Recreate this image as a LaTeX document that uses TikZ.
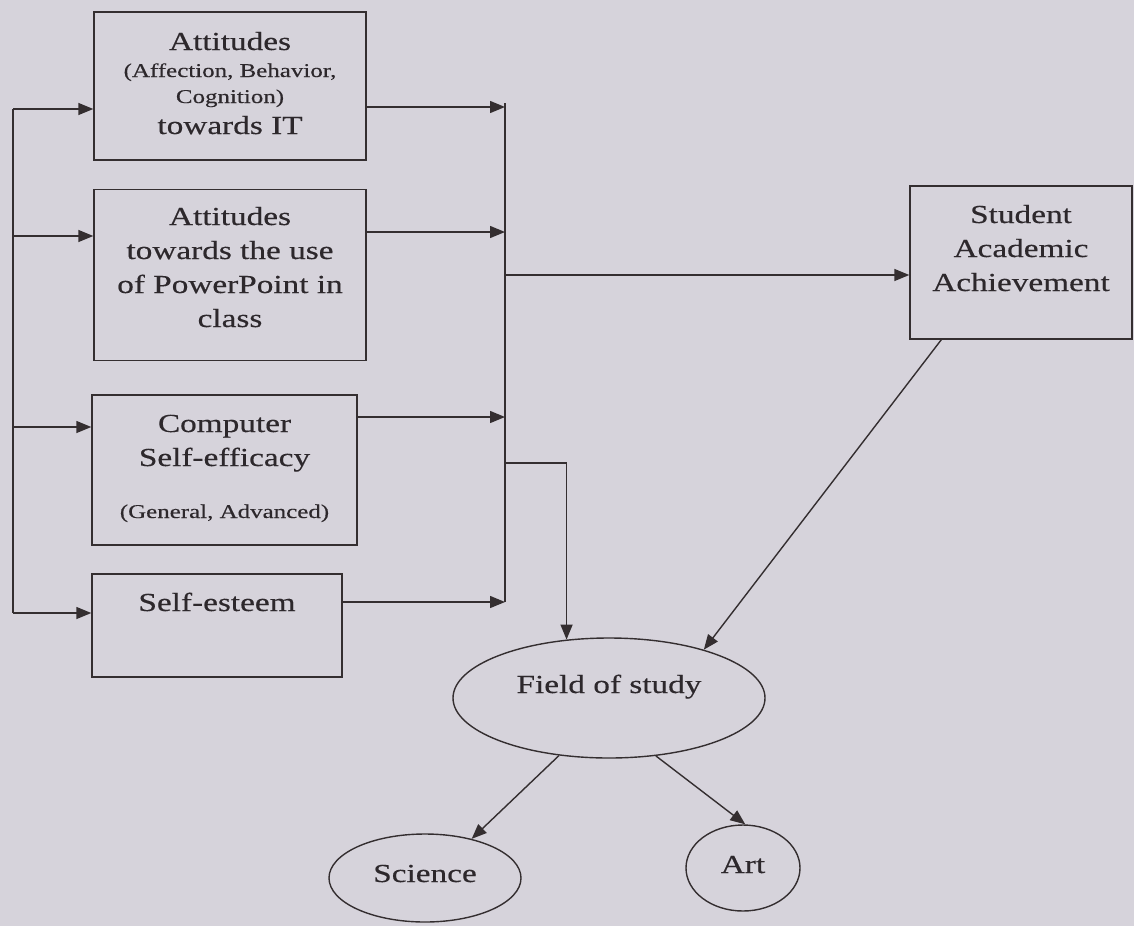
\documentclass[tikz,border=0pt]{standalone}
\usepackage{fontspec}
\setmainfont{Liberation Serif}[FakeStretch=1.28,FakeBold=0.4]
\usetikzlibrary{arrows.meta,shapes.geometric}
\definecolor{bg}{RGB}{214,211,219}
\definecolor{ink}{RGB}{52,46,48}
\definecolor{txt}{RGB}{45,40,44}
\newcommand{\txtat}[2]{\raisebox{#1}[0pt][0pt]{\begin{tabular}[t]{@{}c@{}}#2\end{tabular}}}
\newcommand{\sm}{\fontsize{19.5}{24}\selectfont}
\begin{document}
\begin{tikzpicture}[x=1pt,y=-1pt,
  box/.style={draw=ink, line width=1.4pt, rectangle, inner sep=0pt, text=txt,
    font=\fontsize{26}{34}\selectfont},
  oval/.style={draw=ink, line width=1.4pt, ellipse, inner sep=0pt, text=txt,
    font=\fontsize{26}{34}\selectfont},
  conn/.style={draw=ink, line width=1.4pt},
  arr/.style={conn, -{Triangle[length=15pt,width=12pt]}}]
\fill[bg] (0,0) rectangle (1134,926);
\useasboundingbox (0,0) rectangle (1134,926);

\node[box, minimum width=272pt, minimum height=148pt] (b1) at (230,86)
  {\txtat{36pt}{Attitudes\\[-7pt] \sm (Affection, Behavior,\\[-8pt] \sm Cognition)\\[-3pt] towards IT}};
\node[box, minimum width=272pt, minimum height=171pt] (b2) at (230,275)
  {\txtat{50pt}{Attitudes\\ towards the use\\ of PowerPoint in\\ class}};
\node[box, minimum width=265pt, minimum height=150pt] (b3) at (224.5,470)
  {\txtat{38pt}{Computer\\ Self-efficacy\\[18pt] \sm (General, Advanced)}};
\node[box, minimum width=250pt, minimum height=103pt] (b4) at (217,625.5)
  {\txtat{14.5pt}{Self-esteem}};
\node[box, minimum width=222pt, minimum height=153pt] (s) at (1021,262.5)
  {\txtat{39.5pt}{Student\\ Academic\\ Achievement}};
\node[oval, minimum width=312pt, minimum height=120pt] (f) at (609,698)
  {\txtat{5pt}{Field of study}};
\node[oval, minimum width=192pt, minimum height=88pt] (sci) at (425,878)
  {\txtat{-4pt}{Science}};
\node[oval, minimum width=114pt, minimum height=86pt] (art) at (743,868)
  {\txtat{-5pt}{Art}};

% left distribution line
\coordinate (l1) at (13,109);
\coordinate (l2) at (13,236);
\coordinate (l3) at (13,427);
\coordinate (l4) at (13,613);
\draw[conn] (l1) -- (l4);
\draw[arr] (l1) -- (l1 -| b1.west);
\draw[arr] (l2) -- (l2 -| b2.west);
\draw[arr] (l3) -- (l3 -| b3.west);
\draw[arr] (l4) -- (l4 -| b4.west);

% right collecting line
\coordinate (rt) at (505,103);
\coordinate (r1) at (505,107);
\coordinate (r2) at (505,232);
\coordinate (r3) at (505,417);
\coordinate (r4) at (505,602);
\coordinate (rs) at (505,275);
\coordinate (rf) at (505,463);
\draw[conn] (rt) -- (r4);
\draw[arr] (r1 -| b1.east) -- (r1);
\draw[arr] (r2 -| b2.east) -- (r2);
\draw[arr] (r3 -| b3.east) -- (r3);
\draw[arr] (r4 -| b4.east) -- (r4);
\draw[arr] (rs) -- (rs -| s.west);
\draw[arr] (rf) -| (f.126);

\draw[arr] ([xshift=32pt]s.south west) -- (f.27);
\draw[arr] (f.229) -- (sci.40);
\draw[arr] (f.309) -- (art.87);
\end{tikzpicture}
\end{document}
